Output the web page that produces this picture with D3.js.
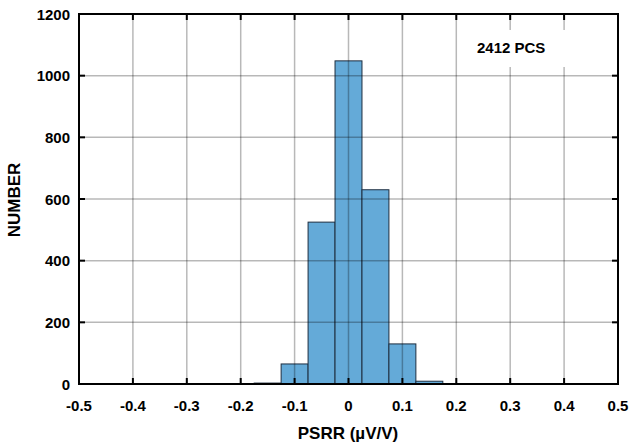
<!DOCTYPE html>
<html><head><meta charset="utf-8">
<script src="https://cdn.jsdelivr.net/npm/d3@7"></script>
<style>
body{margin:0;background:#fff;}
text{font-family:"Liberation Sans",Arial,sans-serif;font-weight:bold;fill:#000;}
</style></head>
<body><svg id="c" width="630" height="443"></svg>
<script>
const binStarts = [-0.175, -0.125, -0.075, -0.025, 0.025, 0.075, 0.125, 0.175, 0.225];
const binWidth = 0.05;
const counts = [3, 65, 525, 1048, 630, 130, 9, 1, 1];
const xTicks = [-0.5,-0.4,-0.3,-0.2,-0.1,0,0.1,0.2,0.3,0.4,0.5];
const xTickLabels = ["-0.5","-0.4","-0.3","-0.2","-0.1","0","0.1","0.2","0.3","0.4","0.5"];
const yTicks = [0,200,400,600,800,1000,1200];
const note = "2412 PCS";

const svg = d3.select("#c");
const L=79,R=618,T=14,B=384;
const x = d3.scaleLinear().domain([-0.5,0.5]).range([L,R]);
const y = d3.scaleLinear().domain([0,1200]).range([B,T]);

// bars
svg.append("g").selectAll("rect").data(counts).join("rect")
  .attr("x",(d,i)=>x(binStarts[i]))
  .attr("width",(d,i)=>x(binStarts[i]+binWidth)-x(binStarts[i]))
  .attr("y",d=>y(d)).attr("height",d=>B-y(d))
  .attr("fill","#64aad8").attr("stroke","#1e2e40").attr("stroke-width",1);

// grid
const g = svg.append("g").attr("stroke","rgba(0,0,0,0.28)").attr("stroke-width",1.5);
xTicks.slice(1,-1).forEach(v=>g.append("line").attr("x1",x(v)).attr("x2",x(v)).attr("y1",T).attr("y2",B));
yTicks.slice(1,-1).forEach(v=>g.append("line").attr("y1",y(v)).attr("y2",y(v)).attr("x1",L).attr("x2",R));

// annotation box
svg.append("rect").attr("x",468).attr("y",30).attr("width",135).attr("height",37).attr("fill","#fff");
svg.append("text").attr("x",477).attr("y",53).attr("font-size",15).text(note);

// frame
svg.append("rect").attr("x",L).attr("y",T).attr("width",R-L).attr("height",B-T)
  .attr("fill","none").attr("stroke","#000").attr("stroke-width",2);

// ticks inward on all sides
const tk = svg.append("g").attr("stroke","#000").attr("stroke-width",2);
xTicks.forEach(v=>{
  tk.append("line").attr("x1",x(v)).attr("x2",x(v)).attr("y1",B).attr("y2",B-6);
  tk.append("line").attr("x1",x(v)).attr("x2",x(v)).attr("y1",T).attr("y2",T+6);
});
yTicks.forEach(v=>{
  tk.append("line").attr("y1",y(v)).attr("y2",y(v)).attr("x1",L).attr("x2",L+6);
  tk.append("line").attr("y1",y(v)).attr("y2",y(v)).attr("x1",R).attr("x2",R-6);
});

// labels
svg.append("g").selectAll("text").data(xTicks).join("text")
  .attr("x",d=>x(d)).attr("y",411).attr("text-anchor","middle").attr("font-size",15)
  .text((d,i)=>xTickLabels[i]);
svg.append("g").selectAll("text").data(yTicks).join("text")
  .attr("x",70).attr("y",d=>y(d)+5.5).attr("text-anchor","end").attr("font-size",15)
  .text(d=>d);

svg.append("text").attr("x",348).attr("y",439).attr("text-anchor","middle").attr("font-size",17).text("PSRR (µV/V)");
svg.append("text").attr("transform","translate(20,200) rotate(-90)").attr("text-anchor","middle").attr("font-size",17).text("NUMBER");
</script></body></html>
